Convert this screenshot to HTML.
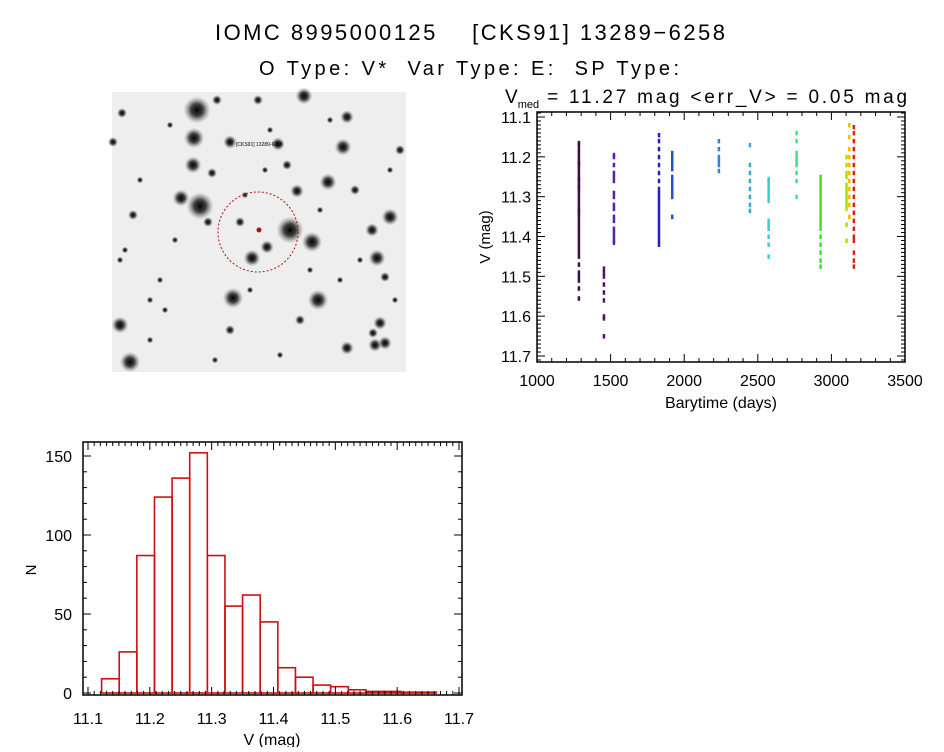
<!DOCTYPE html>
<html><head><meta charset="utf-8"><style>
body{margin:0;background:#fff;width:944px;height:747px;overflow:hidden;font-family:"Liberation Sans",sans-serif}
svg text{font-family:"Liberation Sans",sans-serif;fill:#000;white-space:pre}
</style></head><body>
<svg id="s" width="944" height="747" xmlns="http://www.w3.org/2000/svg">
<text x="470" y="40" font-size="22" text-anchor="middle" textLength="510" xml:space="preserve">IOMC 8995000125    [CKS91] 13289−6258</text>
<text x="469" y="75" font-size="20" text-anchor="middle" textLength="420" xml:space="preserve">O Type: V*  Var Type: E:  SP Type:</text>
<g id="img"></g>
<g id="lc"></g>
<g id="hist"></g>
</svg>
<script>
// ---------- Light curve data ----------
const lcTimes = [1283, 1453, 1521, 1827, 1917, 2234, 2445, 2572, 2762, 2925, 3101, 3120, 3151];
const lcColors = ["#3c0a4e","#55106e","#5a22a0","#2222c0","#2452d0","#2a86dc","#38a8d0","#38d0d0","#44e08a","#48e020","#a8e010","#f0c000","#e02010"];
const lcMags = [
 [11.165,11.17,11.18,11.19,11.2,11.21,11.22,11.23,11.24,11.25,11.26,11.27,11.28,11.29,11.3,11.31,11.32,11.33,11.34,11.35,11.36,11.37,11.38,11.39,11.4,11.41,11.42,11.43,11.44,11.45,11.47,11.49,11.5,11.51,11.53,11.555,11.215,11.255,11.275,11.335],
 [11.48,11.49,11.5,11.52,11.54,11.56,11.6,11.605,11.65],
 [11.195,11.2,11.22,11.24,11.25,11.26,11.29,11.3,11.32,11.33,11.35,11.36,11.38,11.39,11.4,11.41,11.415],
 [11.145,11.16,11.18,11.2,11.22,11.24,11.26,11.28,11.29,11.3,11.31,11.32,11.33,11.34,11.35,11.36,11.37,11.38,11.39,11.4,11.41,11.42],
 [11.19,11.2,11.21,11.22,11.23,11.25,11.26,11.27,11.28,11.29,11.3,11.35],
 [11.16,11.18,11.2,11.21,11.22,11.235],
 [11.17,11.22,11.24,11.26,11.28,11.3,11.32,11.335],
 [11.255,11.26,11.27,11.28,11.29,11.3,11.31,11.36,11.37,11.38,11.4,11.42,11.45],
 [11.14,11.16,11.19,11.2,11.21,11.22,11.24,11.26,11.3],
 [11.25,11.26,11.27,11.28,11.29,11.3,11.31,11.32,11.33,11.34,11.35,11.36,11.37,11.38,11.4,11.42,11.44,11.46,11.475],
 [11.2,11.22,11.24,11.25,11.27,11.28,11.29,11.3,11.31,11.32,11.33,11.37,11.41],
 [11.12,11.15,11.18,11.2,11.22,11.24,11.26,11.28,11.3,11.32,11.35],
 [11.125,11.14,11.16,11.18,11.2,11.22,11.24,11.26,11.28,11.3,11.32,11.34,11.36,11.38,11.4,11.41,11.44,11.46,11.475]
];
const lcXTicks = [1000,1500,2000,2500,3000,3500];
const lcYTicks = [11.1,11.2,11.3,11.4,11.5,11.6,11.7];

// ---------- Histogram data ----------
const histStart = 11.122;
const histWidth = 0.0285;
const histCounts = [9,26,87,124,136,152,87,55,62,45,16,10,5,4,2,1,1,0.5,0.5];
const histXTicks = [11.1,11.2,11.3,11.4,11.5,11.6,11.7];
const histYTicks = [0,50,100,150];

// ---------- Sky image stars ----------
const starX = [197,304,194,193,200,181,230,278,343,347,328,290,312,240,267,252,390,372,377,385,233,318,120,130,380,373,385,375,347,122,297,287,212,208,113,258,217,133,160,150,355,400,265,300,170,340,230,120,140,175,250,320,360,395,150,280,215,330,270,390,125,165,245,310];
const starY = [110,96,138,165,206,198,142,144,147,117,182,230,242,222,247,258,217,230,258,277,298,300,325,362,323,333,343,345,348,113,191,165,173,222,142,100,100,215,280,300,190,150,170,320,125,280,330,260,180,240,290,210,260,300,340,355,360,120,130,170,250,310,195,270];
const starR = [8,5,6,5,8,5,4,4,5,4,5,8,6,3,4,5,5,4,5,3,6,6,5,6,4,3,4,4,4,3,4,3,3,3,3,3,3,3,2,2,3,3,2,3,2,2,3,2,2,2,2,2,2,2,2,2,2,2,2,2,2,2,2,2];

const NS="http://www.w3.org/2000/svg";
function el(tag, attrs, parent){const e=document.createElementNS(NS,tag);for(const k in attrs)e.setAttribute(k,attrs[k]);parent.appendChild(e);return e;}

// ----- Sky image -----
(function(){
 const g=document.getElementById('img');
 const defs=el('defs',{},g);
 const rg=el('radialGradient',{id:'sg'},defs);
 el('stop',{offset:'0','stop-color':'#000','stop-opacity':'1'},rg);
 el('stop',{offset:'0.45','stop-color':'#222','stop-opacity':'0.85'},rg);
 el('stop',{offset:'1','stop-color':'#888','stop-opacity':'0'},rg);
 const bg=el('rect',{x:112,y:92,width:294,height:280,fill:'#eeeeee'},g);
 
 
 for(let i=0;i<starX.length;i++){
  const c=el('circle',{cx:starX[i],cy:starY[i],r:starR[i]*1.7,fill:'url(#sg)'},g);
  
  
 }
 const ring=el('circle',{cx:258,cy:232,r:40,fill:'none',stroke:'#b01010','stroke-width':1,'stroke-dasharray':'2,2'},g);
 
 
 const t=el('circle',{cx:259,cy:230,r:2.5,fill:'#b01010'},g);
 
 
 const lbl=el('text',{x:236,y:146,'font-size':5,fill:'#c02020'},g);
 lbl.textContent='[CKS91] 13289-6258';
 
 
})();

// ----- Light curve -----
(function(){
 const g=document.getElementById('lc');
 const L=537,R=905,T=112,B=362;
 const xs=t=>L+(t-1000)/2500*(R-L);
 const ys=m=>117+(m-11.1)/0.6*(356-117);
 for(let i=0;i<lcTimes.length;i++){
  for(const m of lcMags[i]){
   const p=el('rect',{x:xs(lcTimes[i])-1,y:ys(m)-2,width:2.5,height:4.5,fill:lcColors[i]},g);
   
   
  }
 }
 const fr=el('rect',{x:L,y:T,width:R-L,height:B-T,fill:'none',stroke:'#000','stroke-width':1.5},g);
 
 
 for(let t=1000;t<=3500;t+=100){
  const len=(t%500===0)?8:4;
  el('line',{x1:xs(t),x2:xs(t),y1:B,y2:B-len,stroke:'#000'},g);
  el('line',{x1:xs(t),x2:xs(t),y1:T,y2:T+len,stroke:'#000'},g);
 }
 for(let k=0;k<=62;k++){
  const m=11.09+k*0.01; const y=ys(m); if(y<T||y>B)continue;
  const len=(k%10===1)?8:4;
  el('line',{x1:L,x2:L+len,y1:y,y2:y,stroke:'#000'},g);
  el('line',{x1:R,x2:R-len,y1:y,y2:y,stroke:'#000'},g);
 }
 for(const t of lcXTicks){
  const tx=el('text',{x:xs(t),y:386,'font-size':16,'text-anchor':'middle'},g);
  tx.textContent=t;
  
  
 }
 for(const m of lcYTicks){
  const tx=el('text',{x:531,y:ys(m)+6,'font-size':16,'text-anchor':'end'},g);
  tx.textContent=m.toFixed(1);
  
  
 }
 const xt=el('text',{x:721,y:408,'font-size':16,'text-anchor':'middle'},g);
 xt.textContent='Barytime (days)';
 
 
 const yt=el('text',{x:0,y:0,'font-size':15,'text-anchor':'middle',transform:'translate(490,237) rotate(-90)'},g);
 yt.textContent='V (mag)';
 
 
 const tt=el('text',{x:505,y:103,'font-size':19},g);
 tt.innerHTML='V<tspan font-size="11" dy="5">med</tspan><tspan dy="-5" textLength="368"> = 11.27 mag &lt;err_V&gt; = 0.05 mag</tspan>';
 
 
})();

// ----- Histogram -----
(function(){
 const g=document.getElementById('hist');
 const L=83,R=462,T=442,B=695;
 const xs=v=>88+(v-11.1)/0.6*(459-88);
 const ys=n=>693-n/150*(693-456);
 for(let i=0;i<histCounts.length;i++){
  const x0=xs(histStart+i*histWidth), x1=xs(histStart+(i+1)*histWidth);
  const b=el('rect',{x:x0,y:ys(histCounts[i]),width:x1-x0,height:693-ys(histCounts[i]),fill:'none',stroke:'#d01010','stroke-width':1.6},g);
  
  
 }
 const fr=el('rect',{x:L,y:T,width:R-L,height:B-T,fill:'none',stroke:'#000','stroke-width':1.5},g);
 
 
 for(let k=0;k<=60;k++){
  const x=xs(11.1+k*0.01); const len=(k%10===0)?8:4;
  el('line',{x1:x,x2:x,y1:B,y2:B-len,stroke:'#000'},g);
  el('line',{x1:x,x2:x,y1:T,y2:T+len,stroke:'#000'},g);
 }
 for(let n=0;n<=150;n+=10){
  const y=ys(n); const len=(n%50===0)?8:4;
  el('line',{x1:L,x2:L+len,y1:y,y2:y,stroke:'#000'},g);
  el('line',{x1:R,x2:R-len,y1:y,y2:y,stroke:'#000'},g);
 }
 for(const v of histXTicks){
  const tx=el('text',{x:xs(v),y:724,'font-size':16,'text-anchor':'middle'},g);
  tx.textContent=v.toFixed(1);
  
  
 }
 for(const n of histYTicks){
  const tx=el('text',{x:72,y:ys(n)+6,'font-size':16,'text-anchor':'end'},g);
  tx.textContent=n;
  
  
 }
 const xt=el('text',{x:272,y:745,'font-size':16,'text-anchor':'middle'},g);
 xt.textContent='V (mag)';
 
 
 const yt=el('text',{x:0,y:0,'font-size':15,'text-anchor':'middle',transform:'translate(36,570) rotate(-90)'},g);
 yt.textContent='N';
 
 
})();
</script>
</body></html>
